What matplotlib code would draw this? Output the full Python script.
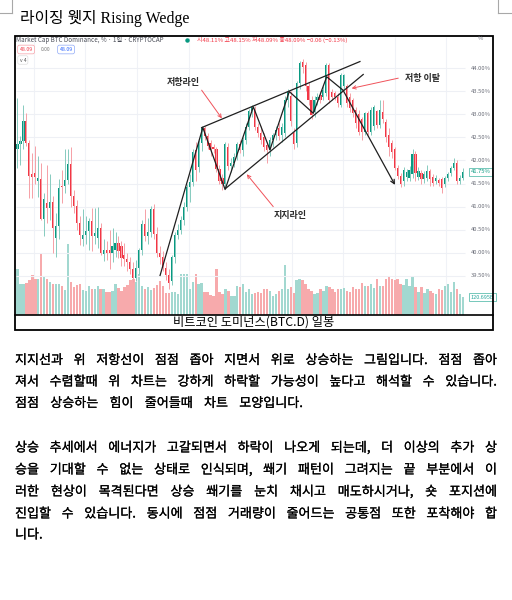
import numpy as np
import matplotlib
matplotlib.use("Agg")
import matplotlib.pyplot as plt
import matplotlib.patheffects as pe
from matplotlib.patches import Rectangle

plt.rcParams['font.family'] = ['Noto Sans CJK KR', 'DejaVu Sans']

# 비트코인 도미넌스 일봉 (%), 그림에서 읽은 값
opens = [42.25, 42.35, 42.42, 42.85, 42.38, 41.71, 41.72, 41.55, 41.59, 40.73,
         41.08, 40.98, 41.10, 40.33, 40.58, 41.45, 41.45, 41.57, 41.92, 41.23,
         41.01, 40.65, 40.29, 40.38, 40.47, 40.69, 40.36, 40.33, 40.54, 39.97,
         40.07, 40.07, 40.00, 40.07, 40.22, 40.15, 39.96, 39.86, 39.80, 39.64,
         39.45, 39.67, 40.07, 40.62, 40.36, 40.45, 40.94, 40.40, 40.00, 39.90,
         39.67, 39.52, 39.40, 39.90, 40.39, 40.50, 40.71, 41.00, 41.42, 41.54,
         42.22, 41.85, 42.38, 42.71, 42.53, 42.38, 42.30, 42.24, 41.81, 41.62,
         41.48, 42.30, 41.88, 41.95, 42.08, 42.35, 42.22, 42.45, 42.73, 43.06,
         43.12, 42.72, 42.60, 42.50, 42.33, 42.22, 42.44, 42.55, 42.70, 42.55,
         42.59, 43.31, 43.40, 42.60, 42.37, 43.67, 44.14, 44.07, 43.60, 43.30,
         43.05, 43.30, 43.42, 43.38, 43.45, 44.07, 43.49, 43.45, 43.38, 43.20,
         43.62, 43.60, 43.38, 43.30, 43.09, 43.00, 42.90, 42.62, 43.02, 42.62,
         42.75, 43.06, 42.77, 43.05, 42.84, 42.55, 42.38, 42.24, 41.84, 41.66,
         41.55, 41.65, 41.62, 41.70, 42.13, 41.65, 41.73, 41.59, 41.62, 41.77,
         41.65, 41.55, 41.58, 41.59, 41.48, 41.62, 41.73, 41.84, 41.95, 41.55,
         41.62]
highs = [43.36, 42.53, 43.21, 43.03, 42.45, 42.17, 42.31, 42.10, 41.95, 41.30,
         41.90, 41.70, 41.23, 40.87, 41.59, 41.80, 42.24, 42.24, 42.30, 41.37,
         41.15, 40.80, 40.94, 40.80, 40.76, 40.98, 40.98, 41.00, 40.65, 40.29,
         40.25, 40.50, 40.54, 40.44, 40.36, 40.26, 40.22, 40.00, 39.90, 39.80,
         39.85, 40.10, 40.70, 40.94, 40.75, 41.02, 41.05, 40.55, 40.15, 40.05,
         39.80, 39.64, 39.95, 40.45, 40.62, 40.80, 41.10, 41.50, 41.70, 42.25,
         42.40, 42.45, 42.75, 42.75, 42.60, 42.45, 42.36, 42.30, 41.90, 41.70,
         42.40, 42.38, 42.05, 42.15, 42.40, 42.45, 42.50, 42.80, 43.12, 43.20,
         43.18, 42.80, 42.75, 42.60, 42.40, 42.50, 42.60, 42.75, 42.80, 42.80,
         43.40, 43.55, 43.50, 42.70, 43.72, 44.15, 44.20, 44.12, 43.70, 43.40,
         43.40, 43.45, 43.50, 43.60, 44.10, 44.10, 43.55, 43.50, 43.45, 43.90,
         43.88, 43.65, 43.45, 43.35, 43.15, 43.10, 42.95, 43.05, 43.08, 43.15,
         43.20, 43.10, 43.30, 43.30, 42.90, 42.70, 42.45, 42.30, 41.90, 41.72,
         41.85, 41.82, 41.88, 42.24, 42.20, 41.85, 41.80, 41.78, 41.91, 41.82,
         41.70, 41.68, 41.63, 41.64, 41.66, 41.75, 41.88, 42.06, 42.00, 41.68,
         41.84]
lows = [41.84, 41.90, 42.24, 42.31, 41.19, 41.19, 41.50, 41.20, 40.70, 40.36,
        40.65, 40.70, 40.00, 39.90, 40.29, 41.08, 41.30, 41.50, 41.00, 40.86,
        40.50, 40.18, 40.15, 40.20, 40.07, 40.04, 40.20, 40.10, 39.95, 39.82,
        39.85, 39.64, 39.80, 39.90, 39.88, 39.71, 39.71, 39.60, 39.55, 39.36,
        39.38, 39.55, 39.95, 40.25, 40.20, 40.35, 40.30, 39.90, 39.75, 39.60,
        39.42, 39.22, 39.30, 39.78, 40.30, 40.40, 40.60, 40.90, 41.10, 41.45,
        41.55, 41.75, 42.20, 42.45, 42.25, 42.10, 42.15, 41.75, 41.50, 41.37,
        41.42, 41.80, 41.75, 41.85, 42.00, 42.15, 42.10, 42.35, 42.65, 42.95,
        42.65, 42.50, 42.35, 42.20, 41.94, 42.10, 42.30, 42.45, 42.45, 42.40,
        42.50, 43.15, 42.75, 42.25, 42.30, 43.55, 43.90, 43.50, 43.20, 42.90,
        42.95, 43.20, 43.25, 43.30, 43.40, 43.25, 43.30, 43.30, 43.15, 43.15,
        43.55, 43.15, 43.05, 42.95, 42.70, 42.55, 42.45, 42.55, 42.55, 42.55,
        42.65, 42.70, 42.70, 42.80, 42.40, 42.10, 42.05, 41.80, 41.60, 41.42,
        41.45, 41.55, 41.55, 41.62, 41.55, 41.58, 41.50, 41.52, 41.55, 41.45,
        41.45, 41.48, 41.45, 41.30, 41.42, 41.55, 41.66, 41.80, 41.50, 41.48,
        41.58]
closes = [42.35, 42.42, 42.85, 42.38, 41.66, 41.65, 41.65, 41.62, 40.74, 41.16,
          40.98, 41.10, 40.54, 40.58, 41.41, 41.42, 41.57, 41.93, 41.23, 41.01,
          40.65, 40.38, 40.38, 40.47, 40.69, 40.36, 40.43, 40.54, 40.00, 40.07,
          40.00, 40.00, 40.15, 40.22, 40.04, 39.89, 39.86, 39.80, 39.64, 39.45,
          39.67, 40.07, 40.62, 40.36, 40.45, 40.94, 40.40, 40.00, 39.90, 39.67,
          39.52, 39.35, 39.90, 40.39, 40.50, 40.71, 41.00, 41.42, 41.54, 42.19,
          41.79, 42.38, 42.71, 42.53, 42.31, 42.22, 42.24, 41.81, 41.55, 41.48,
          42.35, 41.88, 41.95, 42.08, 42.35, 42.22, 42.45, 42.73, 43.06, 43.15,
          42.72, 42.60, 42.44, 42.30, 42.22, 42.44, 42.55, 42.66, 42.52, 42.73,
          43.31, 43.49, 42.85, 42.35, 43.67, 44.10, 44.03, 43.60, 43.30, 42.98,
          43.30, 43.38, 43.31, 43.52, 44.07, 43.31, 43.38, 43.38, 43.24, 43.85,
          43.85, 43.24, 43.13, 43.02, 42.80, 42.62, 42.62, 43.02, 42.62, 43.09,
          43.16, 42.77, 43.09, 42.90, 42.50, 42.30, 42.18, 41.84, 41.66, 41.48,
          41.80, 41.75, 41.80, 42.13, 41.73, 41.77, 41.59, 41.70, 41.77, 41.59,
          41.52, 41.62, 41.52, 41.41, 41.62, 41.70, 41.84, 41.95, 41.55, 41.62,
          41.75]
# 거래량 (B)
volumes = [320, 215, 215, 220, 240, 275, 250, 245, 430, 270,
           250, 230, 215, 215, 215, 200, 170, 490, 230, 190,
           205, 215, 170, 165, 200, 175, 180, 200, 180, 175,
           155, 160, 165, 210, 185, 165, 190, 205, 240, 250,
           225, 280, 200, 175, 190, 170, 185, 205, 235, 200,
           150, 150, 160, 155, 140, 280, 285, 285, 175, 230,
           280, 215, 220, 160, 160, 135, 130, 320, 155, 140,
           180, 165, 130, 130, 200, 195, 210, 160, 175, 140,
           150, 155, 150, 175, 180, 165, 130, 145, 165, 175,
           345, 175, 190, 150, 240, 245, 240, 210, 175, 165,
           140, 150, 175, 165, 200, 190, 175, 160, 180, 175,
           185, 165, 160, 195, 175, 175, 220, 200, 200, 215,
           185, 250, 200, 200, 250, 260, 250, 240, 245, 210,
           205, 245, 200, 265, 190, 160, 190, 150, 175, 165,
           150, 140, 180, 170, 200, 215, 160, 230, 175, 140,
           120.695]

price_levels = [44.0, 43.5, 43.0, 42.5, 42.0, 41.5, 41.0, 40.5, 40.0, 39.5]
grid_days = [5.4, 22.7, 40.2, 57.6, 74.9, 92.3, 109.6, 127.1, 144.4]

# 보조선 (일봉 번호, %)
zigzag_i = [48.0, 62.4, 69.9, 79.4, 85.0, 91.5, 99.6, 104.1, 109.6]
zigzag_p = [39.51, 42.71, 41.37, 43.16, 42.23, 43.49, 43.02, 43.81, 43.52]
resist_i = [62.0, 115.3]
resist_p = [42.71, 44.14]
support_i = [70.2, 116.4]
support_p = [41.40, 43.86]
drop_from = (109.6, 43.52)
drop_to = (127.1, 41.47)

labels = ['저항라인', '지지라인', '저항 이탈']
label_pos = [(55.9, 43.68), (91.9, 40.80), (136.2, 43.78)]
red_arrows = [((62.0, 43.52), (68.8, 42.91)),
              ((86.1, 41.00), (77.2, 41.70)),
              ((128.2, 43.78), (112.5, 43.56))]

title = '라이징 웻지 Rising Wedge'
caption = '비트코인 도미넌스(BTC.D) 일봉'
para1 = ['지지선과 위 저항선이 점점 좁아 지면서 위로 상승하는 그림입니다. 점점 좁아',
         '져서 수렴할때 위 차트는 강하게 하락할 가능성이 높다고 해석할 수 있습니다.',
         '점점 상승하는 힘이 줄어들때 차트 모양입니다.']
para2 = ['상승 추세에서 에너지가 고갈되면서 하락이 나오게 되는데, 더 이상의 추가 상',
         '승을 기대할 수 없는 상태로 인식되며, 쐐기 패턴이 그려지는 끝 부분에서 이',
         '러한 현상이 목격된다면 상승 쐐기를 눈치 채시고 매도하시거나, 숏 포지션에',
         '진입할 수 있습니다. 동시에 점점 거래량이 줄어드는 공통점 또한 포착해야 합',
         '니다.']

GREEN = '#089981'
RED = '#f23645'
W, H = 512, 600

fig = plt.figure(figsize=(W / 100, H / 100), dpi=100)


def px_axes(x0, y0, x1, y1, **kw):
    return fig.add_axes([x0 / W, 1 - y1 / H, (x1 - x0) / W, (y1 - y0) / H], **kw)


# 거래량 (아래층)
ax_v = px_axes(16, 37, 492, 314.5, zorder=1)
ax_p = px_axes(16, 37, 492, 314.5, zorder=2)
ax_p.set_facecolor('none')
for a in (ax_v, ax_p):
    a.set_xlim(-0.505, 159.76)
    a.set_axis_off()
ax_v.set_ylim(0, 1942)
ax_p.set_ylim(38.665, 44.671)

o = np.array(opens)
h = np.array(highs)
l = np.array(lows)
c = np.array(closes)
idx = np.arange(len(c))
up = c >= o

ax_v.vlines(grid_days, 0, 1942, color='#f0f2f7', lw=0.8, zorder=0)
ax_v.bar(idx, volumes, width=0.8, color=np.where(up, '#a2d8d0', '#f7aaac'), linewidth=0)
ax_p.hlines(price_levels, -0.5, 150.7, color='#eef0f5', lw=0.8, zorder=0)

ax_p.vlines(idx[up], l[up], h[up], color='#86cbbf', lw=0.7)
ax_p.vlines(idx[~up], l[~up], h[~up], color='#f6a0a6', lw=0.7)
ax_p.bar(idx, np.maximum(np.abs(c - o), 0.025), bottom=np.minimum(o, c), width=0.72,
         color=np.where(up, GREEN, RED), linewidth=0)

for lv in price_levels:
    ax_p.text(0.955, lv, f'{lv:.2f}%', transform=ax_p.get_yaxis_transform(),
              fontsize=4.2, color='#6a6d78', va='center', ha='left')
ax_p.text(0.955, c[-1], f'{c[-1]:.2f}%', transform=ax_p.get_yaxis_transform(),
          fontsize=4.2, color=GREEN, va='center', ha='left',
          bbox=dict(boxstyle='square,pad=0.3', fc='white', ec='#5fbfb0', lw=0.6))
ax_v.text(0.955, volumes[-1], f'{volumes[-1]:.3f}B', transform=ax_v.get_yaxis_transform(),
          fontsize=4.0, color='#26a69a', va='center', ha='left',
          bbox=dict(boxstyle='square,pad=0.3', fc='white', ec='#5fbfb0', lw=0.6))

# 쐐기 선
ax_p.plot(zigzag_i, zigzag_p, color='#1f1f1f', lw=0.9)
ax_p.plot(resist_i, resist_p, color='#1f1f1f', lw=0.9)
ax_p.plot(support_i, support_p, color='#1f1f1f', lw=0.9)
ax_p.annotate('', xy=drop_to, xytext=drop_from,
              arrowprops=dict(arrowstyle='->', color='#1f1f1f', lw=0.9,
                              shrinkA=0, shrinkB=0, mutation_scale=7))
for (s, e) in red_arrows:
    ax_p.annotate('', xy=e, xytext=s,
                  arrowprops=dict(arrowstyle='->', color='#f0525a', lw=0.7,
                                  shrinkA=0, shrinkB=0, mutation_scale=6))
for txt, (xi, yp) in zip(labels, label_pos):
    ax_p.text(xi, yp, txt, fontsize=6.5, weight='bold', color='#2a2a2a',
              ha='center', va='center')

# 페이지 (픽셀 좌표)
ov = fig.add_axes([0, 0, 1, 1], zorder=5)
ov.set_facecolor('none')
ov.set_xlim(0, W)
ov.set_ylim(H, 0)
ov.set_axis_off()

for xs, ys in (([0, 12], [12.5, 12.5]), ([12, 12], [0, 12.5]),
               ([498, 498], [0, 12.5]), ([498, 512], [12.5, 12.5])):
    ov.plot(xs, ys, color='#a8a8a8', lw=0.8)

ov.text(20, 18.5, title, family=['Liberation Serif', 'Noto Sans CJK KR'],
        fontsize=11.4, va='center', ha='left', color='black')

ov.add_patch(Rectangle((15, 36), 478, 294, fill=False, ec='black', lw=1.3))
ov.plot([15, 493], [315, 315], color='black', lw=1.2)
ov.text(254, 322.5, caption, fontsize=8.8, ha='center', va='center', color='black')

# 차트 상단 정보
ov.text(16.5, 40, 'Market Cap BTC Dominance, % · 1일 · CRYPTOCAP', fontsize=4.5,
        color='#4a4d57', va='center', ha='left')
ov.plot(186.5, 40, 'o', ms=2.2, color=GREEN)
ov.text(197, 40, '시48.11% 고48.15% 저48.09% 종48.09% −0.06 (−0.13%)', fontsize=4.3,
        color=RED, va='center', ha='left')
ov.text(19.5, 49.5, '48.09', fontsize=3.8, color=RED, va='center', ha='left',
        bbox=dict(boxstyle='round,pad=0.35', fc='white', ec='#f7a1a8', lw=0.5))
ov.text(41, 49.5, '0.00', fontsize=3.6, color='#777777', va='center', ha='left')
ov.text(59.5, 49.5, '48.09', fontsize=3.8, color='#2962ff', va='center', ha='left',
        bbox=dict(boxstyle='round,pad=0.35', fc='white', ec='#8fa9f7', lw=0.5))
ov.text(19.5, 60, 'v 4', fontsize=3.6, color='#555555', va='center', ha='left',
        bbox=dict(boxstyle='round,pad=0.35', fc='white', ec='#dddddd', lw=0.5))
ov.text(478, 38.5, '%', fontsize=4.2, color='#6a6d78', va='center', ha='left')

# 본문 (양쪽 정렬)
renderer = fig.canvas.get_renderer()
heavy = [pe.withStroke(linewidth=0.15, foreground='black')]


def put_line(line, y, x0, x1, size=9.4):
    words = line.split(' ')
    arts = [ov.text(0, y, w, fontsize=size, va='center', ha='left', color='black',
                    path_effects=heavy)
            for w in words]
    widths = [a.get_window_extent(renderer).width for a in arts]
    gap = (x1 - x0 - sum(widths)) / (len(words) - 1) if len(words) > 1 else 0
    x = x0
    for a, wd in zip(arts, widths):
        a.set_x(x)
        x += wd + gap


for line, y, x1 in zip(para1, [360.5, 382, 403.5], [497, 497, 303]):
    put_line(line, y, 15, x1)
for line, y, x1 in zip(para2, [448, 470, 492, 514, 535], [497, 497, 497, 497, 45]):
    put_line(line, y, 15, x1)

fig.savefig('out.png', dpi=100)
